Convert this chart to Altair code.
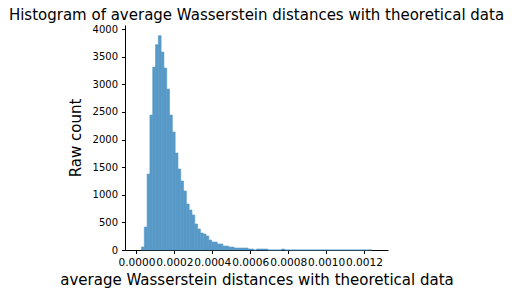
import altair as alt
import pandas as pd

# histogram
range_start = 0.0000266
bin_width = 0.00001479
counts = [54, 416, 1375, 2443, 3312, 3717, 3880, 3584, 3294, 2914,
          2443, 2136, 1756, 1466, 1249, 1068, 833, 724, 634, 471,
          380, 308, 290, 254, 181, 145, 145, 109, 109, 72,
          72, 54, 54, 36, 36, 36, 36, 36, 18, 18,
          0, 18, 18, 18, 18, 0, 0, 0, 0, 0,
          18, 0, 0, 0, 0, 0, 0, 0, 0, 0,
          0, 0, 0, 0, 0, 0, 0, 0, 0, 0,
          0, 0, 0, 0, 0, 0, 0, 0, 0, 0,
          0, 2]
x_ticks = [0.0, 0.0002, 0.0004, 0.0006, 0.0008, 0.0010, 0.0012]
y_ticks = [0, 500, 1000, 1500, 2000, 2500, 3000, 3500, 4000]
x_domain = [-0.000034, 0.0013]
y_domain = [0, 4074]

df = pd.DataFrame({
    "lo": [range_start + i * bin_width for i in range(len(counts))],
    "hi": [range_start + (i + 1) * bin_width for i in range(len(counts))],
    "count": counts,
})

FONT = "DejaVu Sans"
BAR = "#5799c7"

chart = alt.Chart(df).mark_bar(color=BAR, stroke=BAR, strokeWidth=0.6,
                               orient="vertical").encode(
    x=alt.X("lo:Q", scale=alt.Scale(domain=x_domain, nice=False, zero=False),
            axis=alt.Axis(values=x_ticks, format=".4f",
                          title="average Wasserstein distances with theoretical data",
                          labelFontSize=10.6, titleFontSize=15, titlePadding=4,
                          labelPadding=4, labelOverlap=False, labelFlush=False)),
    x2="hi:Q",
    y=alt.Y("count:Q", scale=alt.Scale(domain=y_domain, nice=False),
            axis=alt.Axis(values=y_ticks, format="d", title="Raw count",
                          labelFontSize=10, titleFontSize=15, titlePadding=9,
                          labelPadding=4)),
    y2=alt.datum(0),
).properties(
    width=263, height=225,
    title=alt.TitleParams("Histogram of average Wasserstein distances with theoretical data",
                          fontSize=15, font=FONT, fontWeight="normal", color="black",
                          anchor="middle", offset=1),
    autosize=alt.AutoSizeParams(type="none"),
    padding={"left": 117, "top": 17, "right": 116, "bottom": 38},
).configure_view(stroke=None).configure_axis(
    grid=False, domainColor="black", tickColor="black", labelColor="black",
    titleColor="black", labelFont=FONT, titleFont=FONT, titleFontWeight="normal",
    tickSize=3.5, domainWidth=1, tickWidth=1,
)

chart.save("out.html", embed_options={"renderer": "svg", "actions": False})
